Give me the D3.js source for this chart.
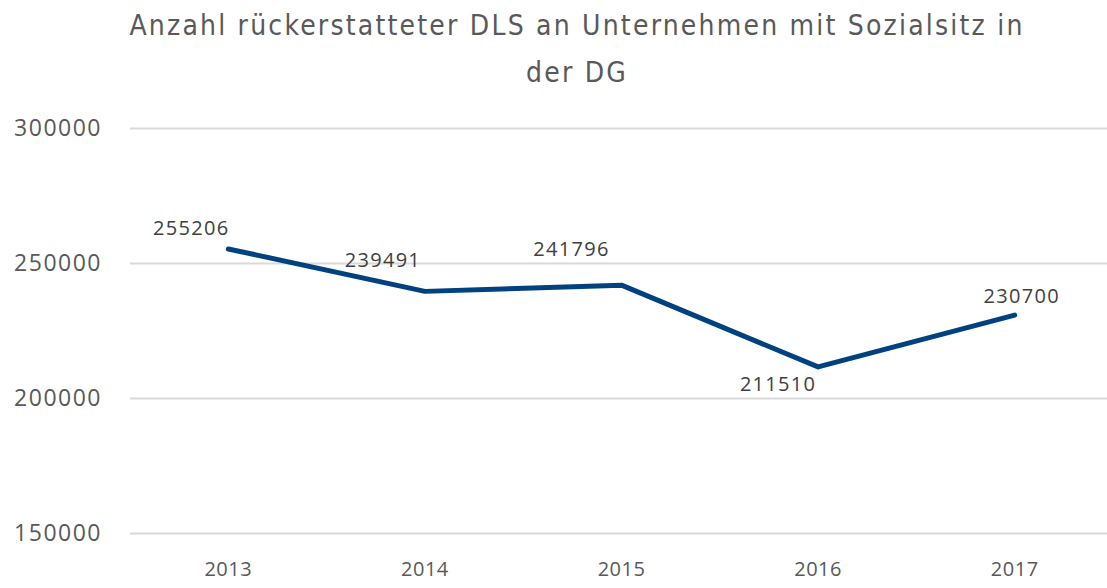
<!DOCTYPE html>
<html>
<head>
<meta charset="utf-8">
<script src="https://cdn.jsdelivr.net/npm/d3@7"></script>
<style>
  body { margin: 0; background: #fff; }
  svg { display: block; }
</style>
</head>
<body>
<svg id="chart" width="1107" height="588"></svg>
<script>
const years = ['2013', '2014', '2015', '2016', '2017'];
const counts = [255206, 239491, 241796, 211510, 230700];
const yTicks = [150000, 200000, 250000, 300000];
const titleLines = ['Anzahl rückerstatteter DLS an Unternehmen mit Sozialsitz in', 'der DG'];
// where each value label sits relative to its point
const labelOffsets = [[-37, -21], [-42, -31], [-50, -36], [-40, 17], [7, -19]];

const svg = d3.select('#chart');
const width = 1107;

const x = d3.scaleBand()
  .domain(years)
  .range([130, 1113]);

const y = d3.scaleLinear()
  .domain([150000, 300000])
  .range([533, 128]);

// title
svg.append('g')
  .attr('class', 'title')
  .selectAll('text')
  .data(titleLines)
  .enter()
  .append('text')
    .attr('x', 577)
    .attr('y', (d, i) => 35 + i * 47)
    .attr('text-anchor', 'middle')
    .attr('fill', '#595959')
    .style('font-family', 'DejaVu Sans')
    .style('font-stretch', 'condensed')
    .style('font-size', '28px')
    .style('letter-spacing', '2.2px')
    .text(d => d);

// gridlines + y labels
const yAxis = svg.append('g')
  .attr('class', 'y-axis')
  .call(d3.axisLeft(y)
    .tickValues(yTicks)
    .tickSize(-(width - 130))
    .tickPadding(28)
    .tickFormat(d3.format('d')))
  .attr('transform', 'translate(130,0)');

yAxis.select('.domain').remove();
yAxis.selectAll('line')
  .attr('stroke', '#d9d9d9')
  .attr('stroke-width', 2);
yAxis.selectAll('text')
  .attr('fill', '#595959')
  .style('font-family', 'Open Sans')
  .style('font-size', '23px')
  .style('letter-spacing', '1.5px');

// x labels
const xAxis = svg.append('g')
  .attr('class', 'x-axis')
  .attr('transform', 'translate(0,533)')
  .call(d3.axisBottom(x).tickSize(0).tickPadding(29));

xAxis.select('.domain').remove();
xAxis.selectAll('text')
  .attr('fill', '#595959')
  .style('font-family', 'Open Sans')
  .style('font-size', '20px')
  .style('letter-spacing', '0.5px');

// line
const line = d3.line()
  .x((d, i) => x(years[i]) + x.bandwidth() / 2)
  .y(d => y(d));

svg.append('path')
  .datum(counts)
  .attr('fill', 'none')
  .attr('stroke', '#00427f')
  .attr('stroke-width', 5)
  .attr('stroke-linejoin', 'round')
  .attr('stroke-linecap', 'round')
  .attr('d', line);

// value labels
svg.append('g')
  .attr('class', 'labels')
  .selectAll('text')
  .data(counts)
  .enter()
  .append('text')
    .attr('x', (d, i) => x(years[i]) + x.bandwidth() / 2 + labelOffsets[i][0])
    .attr('y', (d, i) => y(d) + labelOffsets[i][1])
    .attr('text-anchor', 'middle')
    .attr('dy', '0.35em')
    .attr('fill', '#404040')
    .style('font-family', 'Open Sans')
    .style('font-size', '20px')
    .style('letter-spacing', '1.3px')
    .text(d => d);
</script>
</body>
</html>
